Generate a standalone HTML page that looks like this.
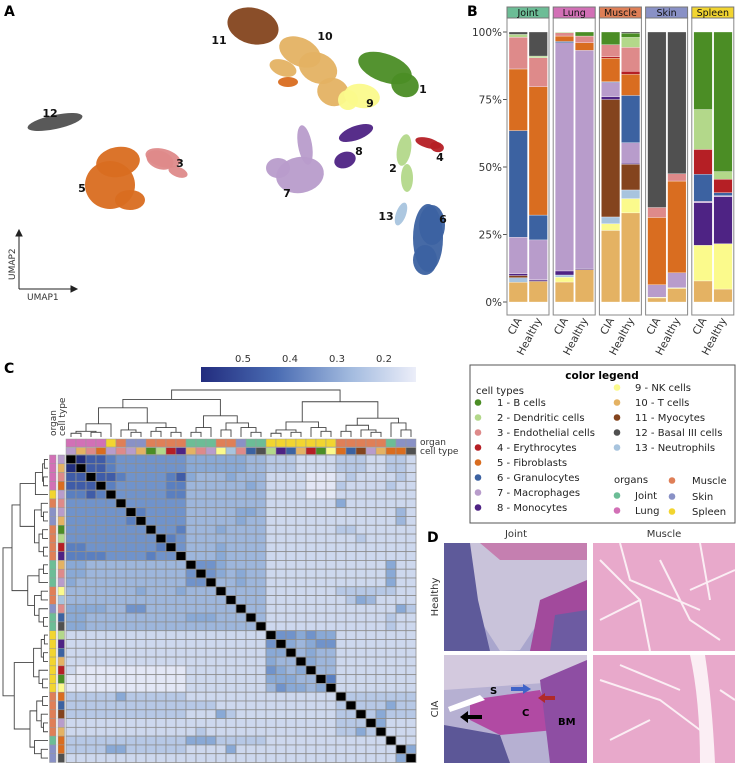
<!DOCTYPE html>
<html><head><meta charset="utf-8">
<style>
html,body{margin:0;padding:0;background:#fff;}
svg{display:block;font-family:"DejaVu Sans","Liberation Sans",sans-serif;}
</style></head>
<body>
<svg id="fig" width="737" height="765" viewBox="0 0 737 765" xmlns="http://www.w3.org/2000/svg">
<g id="panelA">
<text x="4" y="16" font-size="14" font-weight="bold">A</text>
<g id="umap"></g>
<g stroke="#222" stroke-width="1" fill="none">
<line x1="19" y1="289" x2="19" y2="233"/><line x1="19" y1="289" x2="74" y2="289"/>
<path d="M16,236 L19,230 L22,236Z" fill="#222"/><path d="M71,286 L77,289 L71,292Z" fill="#222"/>
</g>
<text x="27" y="300" font-size="9" fill="#333">UMAP1</text>
<text transform="translate(15,280) rotate(-90)" font-size="9" fill="#333">UMAP2</text>
</g>
<g id="panelB">
<text x="467" y="16" font-size="14" font-weight="bold">B</text>
</g>
<g id="panelC">
<text x="4" y="373" font-size="14" font-weight="bold">C</text>
<defs><linearGradient id="cbg" x1="0" x2="1"><stop offset="0" stop-color="#222c7e"/><stop offset="0.35" stop-color="#4a6cb3"/><stop offset="0.7" stop-color="#a3bbdf"/><stop offset="1" stop-color="#eceef9"/></linearGradient></defs>
<rect x="201" y="367" width="215" height="15" fill="url(#cbg)"/>
<g font-size="10" fill="#333" text-anchor="middle">
<text x="243" y="362">0.5</text><text x="290" y="362">0.4</text><text x="337" y="362">0.3</text><text x="384" y="362">0.2</text></g>
<text x="420" y="445" font-size="9" fill="#333">organ</text>
<text x="420" y="454" font-size="9" fill="#333">cell type</text>
<text transform="translate(56,436) rotate(-90)" font-size="9" fill="#333">organ</text>
<text transform="translate(65,436) rotate(-90)" font-size="9" fill="#333">cell type</text>
<g id="heat"></g>
</g>
<g id="legend">
<rect x="470" y="365" width="265" height="158" fill="#fff" stroke="#555" stroke-width="1"/>
<text x="602" y="379" font-size="10.5" font-weight="bold" text-anchor="middle">color legend</text>
</g>
<g id="panelD">
<text x="427" y="542" font-size="14" font-weight="bold">D</text>
<text x="516" y="537" font-size="10" fill="#333" text-anchor="middle">Joint</text>
<text x="664" y="537" font-size="10" fill="#333" text-anchor="middle">Muscle</text>
<text transform="translate(438,597) rotate(-90)" font-size="10" fill="#333" text-anchor="middle">Healthy</text>
<text transform="translate(438,709) rotate(-90)" font-size="10" fill="#333" text-anchor="middle">CIA</text>
<g>
<rect x="444" y="543" width="143" height="108" fill="#a9a6cd"/>
<path d="M470,543 L587,543 L587,600 L540,620 L520,650 L500,651 L480,620 L470,570Z" fill="#c9c3da"/>
<path d="M444,543 L470,543 L478,600 L490,651 L444,651Z" fill="#5e5a9a"/>
<path d="M540,600 L587,580 L587,651 L530,651Z" fill="#a24a9c"/>
<path d="M555,615 L587,610 L587,651 L550,651Z" fill="#6d5ba2"/>
<path d="M480,543 L587,543 L587,560 L500,560Z" fill="#c57fb0"/>
</g>
<g>
<rect x="444" y="655" width="143" height="108" fill="#b6b0d2"/>
<path d="M444,655 L587,655 L587,680 L444,690Z" fill="#d3c9de"/>
<path d="M470,700 L540,690 L555,730 L500,735 L470,720Z" fill="#b14aa3"/>
<path d="M540,680 L587,660 L587,763 L550,763Z" fill="#8e4ea3"/>
<path d="M444,725 L500,735 L510,763 L444,763Z" fill="#5c5797"/>
<path d="M448,707 L480,695 L485,700 L450,712Z" fill="#fff"/>
<text x="490" y="694" font-size="10" font-weight="bold">S</text>
<text x="522" y="716" font-size="10" font-weight="bold">C</text>
<text x="558" y="725" font-size="10" font-weight="bold">BM</text>
<path d="M518,688 L530,688 L530,685 L538,690 L530,695 L530,692 L518,692Z" fill="#3f63c8" transform="translate(-7,-1)"/>
<path d="M555,697 L545,697 L545,694 L538,699 L545,704 L545,701 L555,701Z" fill="#b02a2a" transform="translate(0,-1)"/>
<path d="M482,715 L468,715 L468,711 L460,717 L468,723 L468,719 L482,719Z" fill="#000"/>
</g>
<g>
<rect x="593" y="543" width="142" height="108" fill="#e8a9cb"/>
<path d="M600,560 L640,600 L650,651 M620,543 L630,580 L700,610 M660,560 L690,620 L720,640 M700,543 L710,600 M735,570 L690,590 M600,620 L640,600" stroke="#fbeef4" stroke-width="2" fill="none"/>
</g>
<g>
<rect x="593" y="655" width="142" height="108" fill="#e8a9cb"/>
<path d="M690,655 Q700,700 700,763 L715,763 Q712,700 705,655Z" fill="#fbeef4"/>
<path d="M600,680 L660,700 L700,730 M610,740 L650,720 M720,690 L735,700 M620,665 L680,690" stroke="#fbeef4" stroke-width="2" fill="none"/>
</g>
</g>
</svg>
<script>
const NS="http://www.w3.org/2000/svg";
function mk(tag,attrs,parent){const e=document.createElementNS(NS,tag);for(const k in attrs)e.setAttribute(k,attrs[k]);parent.appendChild(e);return e;}
const cellNames=["B cells","Dendritic cells","Endothelial cells","Erythrocytes","Fibroblasts","Granulocytes","Macrophages","Monocytes","NK cells","T cells","Myocytes","Basal III cells","Neutrophils"];
const cellColors=["#4b8d25","#b3d88a","#de8a8a","#b51f25","#d96d20","#3c62a1","#b89ccb","#4e2384","#fbfa8c","#e4b263","#84441e","#505050","#a8c4de"];
const organNames=["Joint","Lung","Muscle","Skin","Spleen"];
const organColors=["#6cbd96","#d270b6","#df7f57","#8991c6","#f2d530"];

// ---------- Panel A ----------
const blobCluster=[11,10,10,10,10,5,1,1,9,9,8,8,7,7,7,2,2,4,4,6,6,6,13,3,12,5,5,5,3,3];
const blobCx=[253,300,318,333,283,288,385,405,362,348,356,345,300,305,278,404,407,428,437,428,432,425,401,163,55,110,118,130,160,178];
const blobCy=[26,52,68,92,68,82,68,85,96,100,133,160,175,145,168,150,178,143,147,238,225,260,214,158,122,185,162,200,160,172];
const blobRx=[26,22,20,16,14,10,28,14,18,10,18,11,24,7,12,7,6,13,7,15,13,12,5,18,28,25,22,15,14,10];
const blobRy=[18,14,15,14,8,5,14,12,12,10,7,8,18,20,10,16,14,5,5,34,20,15,12,9,7,24,15,10,9,5];
const blobRot=[15,25,25,20,20,0,20,20,10,0,-20,-20,-10,-10,0,10,0,15,15,0,0,0,20,15,-12,0,-10,0,20,20];
const umap=document.getElementById('umap');
for(let i=0;i<blobCluster.length;i++){
  const e=mk('ellipse',{cx:blobCx[i],cy:blobCy[i],rx:blobRx[i],ry:blobRy[i],fill:cellColors[blobCluster[i]-1],opacity:0.95,transform:`rotate(${blobRot[i]} ${blobCx[i]} ${blobCy[i]})`},umap);
  
  
}
const lblText=["11","10","1","9","8","4","2","6","13","7","12","3","5"];
const lblX=[219,325,423,370,359,440,393,443,386,287,50,180,82];
const lblY=[44,40,93,107,155,161,172,223,220,197,117,167,192];
for(let i=0;i<lblText.length;i++){
  const t=mk('text',{x:lblX[i],y:lblY[i],'font-size':11,'font-weight':'bold','text-anchor':'middle',fill:'#111'},umap);
  t.textContent=lblText[i];
  
  
}

// ---------- Panel B ----------
const facets=["Joint","Lung","Muscle","Skin","Spleen"];
const conditions=["CIA","Healthy"];
const jointCIA=[0,1,11.5,0.3,22.8,39.5,13.5,0.7,0,7.3,0.8,0.9,1.7];
const jointHealthy=[0,0.6,10.8,0,47.5,9.2,14.8,0.4,0,7.5,0.3,8.9,0];
const lungCIA=[0,0.3,1.2,0,2,0.5,84.5,1.5,1.8,7.4,0,0,0.8];
const lungHealthy=[1.5,0,2.5,0,2.8,0,80.8,0.4,0,12,0,0,0];
const muscleCIA=[4.7,0,4.5,0.5,8.7,0.3,5.3,1,2.5,26.5,43.5,0,2.5];
const muscleHealthy=[1.5,3.7,8.8,1.2,7.8,17.5,7.6,0.4,5.3,33,9.5,0.5,3.2];
const skinCIA=[0,0,3.7,0,24.9,0,4.6,0,0.3,1.5,0,65,0];
const skinHealthy=[0,0,2.7,0,34,0,5.5,0,0.3,5,0,52.5,0];
const spleenCIA=[28.7,14.8,0,9.2,0,10,0.5,15.8,13.2,7.8,0,0,0];
const spleenHealthy=[51.7,2.8,0,5,0,1.1,0.4,17.4,16.8,4.8,0,0,0];
const barSeries=[[jointCIA,jointHealthy],[lungCIA,lungHealthy],[muscleCIA,muscleHealthy],[skinCIA,skinHealthy],[spleenCIA,spleenHealthy]];
const stackOrder=[10,9,13,11,8,7,6,5,4,3,2,1,12];
const yTicks=[0,25,50,75,100];
const pB=document.getElementById('panelB');
const yB=v=>302-v*2.7;
const facetX=f=>507+f*46.2;
yTicks.forEach(t=>{
  const tx=mk('text',{x:502,y:yB(t)+4,'font-size':10.5,'text-anchor':'end',fill:'#333'},pB);tx.textContent=t+'%';
  
  
  mk('line',{x1:503,x2:507,y1:yB(t),y2:yB(t),stroke:'#555'},pB);
});
facets.forEach((f,fi)=>{
  const x0=facetX(fi);
  const box=mk('rect',{x:x0,y:18,width:42,height:297,fill:'#fff',stroke:'#888'},pB);
  
  
  const strip=mk('rect',{x:x0,y:7,width:42,height:11,fill:organColors[fi],stroke:'#777'},pB);
  
  
  const st=mk('text',{x:x0+21,y:16,'font-size':9.5,'text-anchor':'middle',fill:'#111'},pB);st.textContent=f;
  
  
  conditions.forEach((c,ci)=>{
    const bx=x0+2+ci*20;let acc=0;
    stackOrder.forEach(k=>{
      const v=barSeries[fi][ci][k-1];if(v<=0)return;
      const r=mk('rect',{x:bx,y:yB(acc+v),width:18.5,height:v*2.7,fill:cellColors[k-1],stroke:'#fff','stroke-width':0.3},pB);
      
      
      acc+=v;
    });
    const tl=mk('text',{'font-size':10.5,'text-anchor':'end',fill:'#333',transform:`translate(${bx+13},320) rotate(-62)`},pB);tl.textContent=c;
    
    
  });
});

// ---------- Panel C ----------
const leafOrgan=[1,1,1,1,4,2,3,3,2,2,2,2,0,0,0,2,2,3,0,0,4,4,4,4,4,4,4,2,2,2,2,2,0,3,3];
const leafCell=[7,10,3,5,7,3,7,10,1,2,4,8,10,3,7,9,13,3,6,12,2,8,6,10,4,1,9,5,6,11,7,10,5,5,12];
// similarity levels (1 light .. 9 dark), row parts: block A(12) | B(8) | C(7) | D(8)
const heatRows=[
["X98876666666","55555544","3332222","33322332"],
["9X8876666666","55555544","3332222","33322332"],
["88X887666678","54445444","2222111","23222232"],
["888X76666677","44444454","2222111","32222322"],
["7787X6666677","44444444","2222111","22222222"],
["66666X666666","44444444","2222222","52222222"],
["666666X76666","44444554","2222222","22222242"],
["6666667X6666","44444544","2222222","22222242"],
["66666666X667","44454444","2222222","33222222"],
["666666666X76","44444444","2222222","22322222"],
["7766666667X6","44454444","2222222","22222222"],
["77776666766X","44454444","2222222","22222222"],
["554444444444","X6654444","2222222","22222522"],
["554444444444","6X654544","2222222","22222522"],
["544444444444","66X44544","2222222","22222522"],
["444444454445","444X4444","2222222","33333322"],
["444444444444","4444X444","2222222","23542222"],
["555544664444","44444X44","2222222","22222253"],
["554444444444","555444X4","2222222","22222322"],
["554444444444","4444444X","2222222","22222322"],
["222222222222","22222222","X665655","22222222"],
["222222222222","22222222","6X54566","22222222"],
["222222222222","22222222","55X4544","22222222"],
["222222222222","22222222","544X544","22222222"],
["211111111111","22222222","6545X44","22222222"],
["111111111111","22222222","55544X7","22222222"],
["111111111111","22222222","465545X","22222222"],
["333335333333","22222222","2222222","X3333333"],
["333333333333","33322222","2222222","3X333533"],
["333333333333","22253222","2222222","33X35333"],
["222222222222","22222222","2222222","333X5222"],
["222222222222","23222222","2222222","3353X222"],
["333333333333","55533333","2222222","22222X22"],
["333355333333","22225222","2222222","222222X5"],
["222222222222","22222222","2222222","2222225X"]];
const levelColors=["#eef0fa","#e3e7f6","#cdd8ee","#b6c8e6","#9db6dc","#89a9d6","#7093cb","#5a7fc0","#3f5ca8","#212e7e"];
const heat=document.getElementById('heat');
const N=35,hx0=66,hy0=455,cw=10,ch=307.5/35;
for(let r=0;r<N;r++){
  const row=heatRows[r].join('');
  for(let c=0;c<N;c++){
    const v=row[c]||'2';
    const fill=(r===c)?'#000':(v==='X'?levelColors[2]:levelColors[+v]);
    const cell=mk('rect',{x:hx0+c*cw,y:hy0+r*ch,width:cw,height:ch,fill:fill,stroke:'#8e8e8e','stroke-width':0.8},heat);
    
    
  }
}
for(let i=0;i<N;i++){
  const a=mk('rect',{x:hx0+i*cw,y:439,width:cw,height:8,fill:organColors[leafOrgan[i]],stroke:'#999','stroke-width':0.5},heat);
  
  
  const b=mk('rect',{x:hx0+i*cw,y:447.5,width:cw,height:7,fill:cellColors[leafCell[i]-1],stroke:'#999','stroke-width':0.5},heat);
  
  
  const c=mk('rect',{x:49.5,y:hy0+i*ch,width:6.5,height:ch,fill:organColors[leafOrgan[i]],stroke:'#999','stroke-width':0.5},heat);
  
  
  const d=mk('rect',{x:58,y:hy0+i*ch,width:6.5,height:ch,fill:cellColors[leafCell[i]-1],stroke:'#999','stroke-width':0.5},heat);
  
  
}
const treeA=[0.62,[0.28,[0.12,[0.08,0,1],[0.1,2,3]],4],[0.3,[0.15,5,[0.1,6,7]],[0.2,[0.12,8,9],[0.1,10,11]]]];
const treeB=[0.45,[0.2,[0.1,12,13],14],[0.3,[0.15,15,16],[0.2,17,[0.1,18,19]]]];
const treeC=[0.32,[0.15,[0.08,20,21],[0.1,22,23]],[0.2,24,[0.12,25,26]]];
const treeD=[0.4,[0.25,[0.12,27,28],[0.15,29,[0.1,30,31]]],[0.3,32,[0.15,33,34]]];
const tree=[1.0,[0.8,treeA,treeB],[0.75,treeC,treeD]];
function drawTree(node,pos,hgt,g,horiz){
  if(typeof node==='number')return [pos(node),0];
  const [h,l,r]=node;
  const L=drawTree(l,pos,hgt,g,horiz),R=drawTree(r,pos,hgt,g,horiz);
  const H=hgt(h);
  let d;
  if(!horiz) d=`M${L[0]},${hgt(L[1])}V${H}H${R[0]}V${hgt(R[1])}`;
  else d=`M${hgt(L[1])},${L[0]}H${H}V${R[0]}H${hgt(R[1])}`;
  mk('path',{d:d,fill:'none',stroke:'#444','stroke-width':0.9},g);
  return [(L[0]+R[0])/2,h];
}
const gTop=mk('g',{},heat);


drawTree(tree,i=>hx0+i*cw+cw/2,h=>437-h*47,gTop,false);
const gLeft=mk('g',{},heat);


drawTree(tree,i=>hy0+i*ch+ch/2,h=>48-h*45,gLeft,true);

// ---------- Legend ----------
const lg=document.getElementById('legend');
function legText(x,y,s){const t=mk('text',{x:x,y:y,'font-size':10,fill:'#222'},lg);t.textContent=s;return t;}
legText(476,394,'cell types');
for(let i=0;i<13;i++){
  const col=i<8?0:1,row=i<8?i+1:i-8;
  const cx=col?617:478,y=row*15+391;
  const dot=mk('circle',{cx:cx,cy:y-3.5,r:3.3,fill:cellColors[i]},lg);
  
  
  const t=legText(col?635:497,y,(i+1)+' - '+cellNames[i]);
  
  
}
legText(614,483,'organs');
const orgX=[617,617,672,672,672],orgY=[499,514,484,500,515];
for(let i=0;i<5;i++){
  const dot=mk('circle',{cx:orgX[i],cy:orgY[i]-3.5,r:3.3,fill:organColors[i]},lg);
  
  
  const t=legText(orgX[i]+(i<2?18:20),orgY[i],organNames[i]);
  
  
}
</script>
</body></html>
